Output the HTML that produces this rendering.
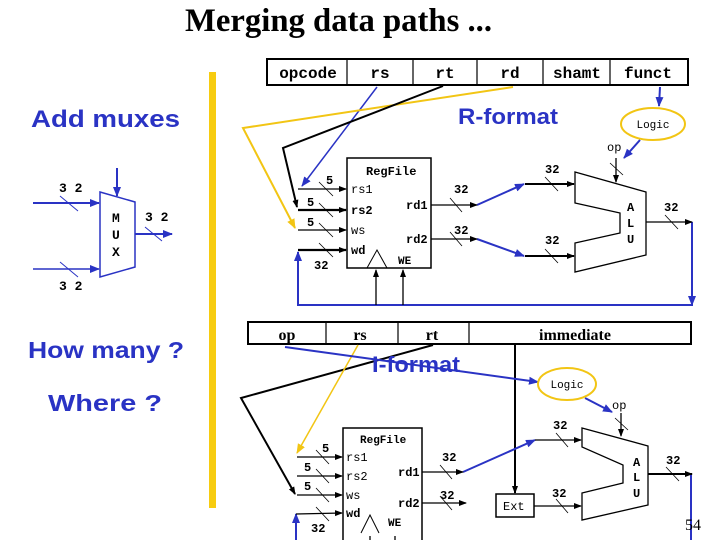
<!DOCTYPE html>
<html><head><meta charset="utf-8"><style>
html,body{margin:0;padding:0;background:#fff;}
svg{display:block}
.m{font-family:"Liberation Mono",monospace;font-weight:bold;}
.b{font-family:"Liberation Sans",sans-serif;font-weight:bold;fill:#2a33c4;}
</style></head><body>
<svg width="720" height="540" viewBox="0 0 720 540" xmlns="http://www.w3.org/2000/svg">
<defs>
<marker id="ak" markerWidth="8" markerHeight="8" refX="7" refY="4" orient="auto" markerUnits="userSpaceOnUse"><path d="M0,1 L8,4 L0,7z" fill="#000"/></marker>
<marker id="ab" markerWidth="10" markerHeight="10" refX="9" refY="5" orient="auto" markerUnits="userSpaceOnUse"><path d="M0,1 L10,5 L0,9z" fill="#2a33c4"/></marker>
<marker id="ay" markerWidth="10" markerHeight="10" refX="9" refY="5" orient="auto" markerUnits="userSpaceOnUse"><path d="M0,1 L10,5 L0,9z" fill="#f2c514"/></marker>
</defs>
<text x="185" y="31" textLength="307" lengthAdjust="spacingAndGlyphs" font-family="Liberation Serif,serif" font-weight="bold" font-size="33">Merging data paths ...</text>
<text x="31" y="127" class="b" font-size="24" textLength="149" lengthAdjust="spacingAndGlyphs">Add muxes</text>
<text x="28" y="358" class="b" font-size="23" textLength="156" lengthAdjust="spacingAndGlyphs">How many ?</text>
<text x="48" y="411" class="b" font-size="23" textLength="114" lengthAdjust="spacingAndGlyphs">Where ?</text>
<rect x="209" y="72" width="7" height="436" fill="#f7cc10"/>

<!-- MUX -->
<g stroke="#2a33c4" fill="none" stroke-width="1.5">
<path d="M100,192 L135,202 L135,267 L100,277Z" fill="#fff"/>
<line x1="33" y1="203" x2="99" y2="203" marker-end="url(#ab)" stroke-width="2"/>
<line x1="33" y1="269" x2="99" y2="269" marker-end="url(#ab)"/>
<line x1="135" y1="234" x2="172" y2="234" marker-end="url(#ab)" stroke-width="2"/>
<line x1="117" y1="168" x2="117" y2="196" marker-end="url(#ab)" stroke-width="2"/>
<line x1="60" y1="196" x2="78" y2="211" stroke-width="1"/>
<line x1="60" y1="262" x2="78" y2="277" stroke-width="1"/>
<line x1="145" y1="227" x2="162" y2="241" stroke-width="1"/>
</g>
<g class="m" font-size="13">
<text x="59" y="192">3 2</text><text x="145" y="221">3 2</text><text x="59" y="290">3 2</text>
<text x="112" y="222">M</text><text x="112" y="239">U</text><text x="112" y="256">X</text>
</g>

<!-- R-format -->
<rect x="267" y="59" width="421" height="26" fill="#fff" stroke="#000" stroke-width="2"/>
<g stroke="#000" stroke-width="1.2"><line x1="347" y1="59" x2="347" y2="85"/><line x1="413" y1="59" x2="413" y2="85"/><line x1="477" y1="59" x2="477" y2="85"/><line x1="543" y1="59" x2="543" y2="85"/><line x1="610" y1="59" x2="610" y2="85"/></g>
<g class="m" font-size="16" text-anchor="middle">
<text x="308" y="78">opcode</text><text x="380" y="78">rs</text><text x="445" y="78">rt</text><text x="510" y="78">rd</text><text x="577" y="78">shamt</text><text x="648" y="78">funct</text>
</g>
<text x="458" y="124" class="b" font-size="22" textLength="100" lengthAdjust="spacingAndGlyphs">R-format</text>
<ellipse cx="653" cy="124" rx="32" ry="16" fill="#fff" stroke="#f2c514" stroke-width="2"/>
<text x="653" y="128" text-anchor="middle" font-family="Liberation Mono,monospace" font-size="11">Logic</text>
<g stroke="#2a33c4" stroke-width="2" fill="none">
<line x1="660" y1="87" x2="659" y2="106" marker-end="url(#ab)"/>
<line x1="640" y1="140" x2="624" y2="158" marker-end="url(#ab)"/>
<line x1="377" y1="87" x2="302" y2="186" marker-end="url(#ab)" stroke-width="1.5"/>
<line x1="477" y1="205" x2="524" y2="184" marker-end="url(#ab)"/>
<line x1="477" y1="239" x2="524" y2="256" marker-end="url(#ab)"/>
<polyline points="692,222 692,305 298,305 298,252" marker-end="url(#ab)"/>
<line x1="692" y1="222" x2="692" y2="305" marker-end="url(#ab)"/>
</g>
<polyline points="513,87 243,128 295,228" fill="none" stroke="#f2c514" stroke-width="2" marker-end="url(#ay)"/>
<polyline points="443,86 283,148 297,207" fill="none" stroke="#000" stroke-width="2" marker-end="url(#ak)"/>
<rect x="347" y="158" width="84" height="110" fill="#fff" stroke="#000" stroke-width="1.5"/>
<path d="M367,268 L377,250 L387,268" fill="none" stroke="#000"/>
<g stroke="#000" stroke-width="1.3" fill="none">
<line x1="298" y1="189" x2="346" y2="189" marker-end="url(#ak)"/>
<line x1="298" y1="210" x2="346" y2="210" marker-end="url(#ak)" stroke-width="2.2"/>
<line x1="298" y1="230" x2="346" y2="230" marker-end="url(#ak)"/>
<line x1="298" y1="250" x2="346" y2="250" marker-end="url(#ak)" stroke-width="2.2"/>
<line x1="431" y1="205" x2="477" y2="205" marker-end="url(#ak)"/>
<line x1="431" y1="239" x2="477" y2="239" marker-end="url(#ak)"/>
<line x1="525" y1="184" x2="574" y2="184" marker-end="url(#ak)" stroke-width="2"/>
<line x1="525" y1="256" x2="574" y2="256" marker-end="url(#ak)" stroke-width="2"/>
<line x1="646" y1="222" x2="692" y2="222" marker-end="url(#ak)"/>
<line x1="616" y1="158" x2="616" y2="182" marker-end="url(#ak)"/>
<line x1="376" y1="305" x2="376" y2="270" marker-end="url(#ak)"/>
<line x1="403" y1="305" x2="403" y2="270" marker-end="url(#ak)"/>
<path d="M575,172 L646,192 L646,255 L575,272 L575,243 L620,233 L620,213 L575,203Z" fill="#fff"/>
<g stroke-width="0.8">
<line x1="319" y1="182" x2="333" y2="196"/><line x1="319" y1="203" x2="333" y2="217"/><line x1="319" y1="223" x2="333" y2="237"/><line x1="319" y1="243" x2="333" y2="257"/>
<line x1="450" y1="198" x2="462" y2="212"/><line x1="450" y1="232" x2="462" y2="246"/>
<line x1="545" y1="177" x2="558" y2="191"/><line x1="545" y1="249" x2="558" y2="263"/>
<line x1="665" y1="215" x2="678" y2="229"/><line x1="610" y1="163" x2="623" y2="175"/>
</g></g>
<g class="m" font-size="12">
<text x="366" y="175">RegFile</text>
<text x="351" y="193" font-weight="normal">rs1</text><text x="351" y="214">rs2</text><text x="351" y="234" font-weight="normal">ws</text><text x="351" y="254">wd</text>
<text x="406" y="209">rd1</text><text x="406" y="243">rd2</text><text x="398" y="264" font-size="11">WE</text>
<text x="326" y="184">5</text><text x="307" y="206">5</text><text x="307" y="226">5</text><text x="314" y="269">32</text>
<text x="454" y="193">32</text><text x="454" y="234">32</text><text x="545" y="173">32</text><text x="545" y="244">32</text><text x="664" y="211">32</text>
<text x="627" y="211">A</text><text x="627" y="227">L</text><text x="627" y="243">U</text>
<text x="607" y="151" font-weight="normal">op</text>
</g>

<!-- I-format -->
<rect x="248" y="322" width="443" height="22" fill="#fff" stroke="#000" stroke-width="2"/>
<g stroke="#000" stroke-width="1.2"><line x1="326" y1="322" x2="326" y2="344"/><line x1="398" y1="322" x2="398" y2="344"/><line x1="469" y1="322" x2="469" y2="344"/></g>
<g font-family="Liberation Serif,serif" font-weight="bold" font-size="16" text-anchor="middle">
<text x="287" y="340">op</text><text x="360" y="340">rs</text><text x="432" y="340">rt</text><text x="575" y="340">immediate</text>
</g>
<line x1="515" y1="344" x2="515" y2="493" stroke="#000" stroke-width="2" marker-end="url(#ak)"/>
<polyline points="433,345 241,398 295,494" fill="none" stroke="#000" stroke-width="2" marker-end="url(#ak)"/>
<line x1="358" y1="345" x2="297" y2="453" stroke="#f2c514" stroke-width="1.5" marker-end="url(#ay)"/>
<g stroke="#2a33c4" stroke-width="2" fill="none">
<line x1="285" y1="347" x2="538" y2="382" marker-end="url(#ab)"/>
<line x1="585" y1="398" x2="612" y2="412" marker-end="url(#ab)"/>
<line x1="463" y1="472" x2="535" y2="440" marker-end="url(#ab)"/>
<line x1="691" y1="474" x2="691" y2="540"/>
<line x1="296" y1="540" x2="296" y2="514" marker-end="url(#ab)"/>
</g>
<text x="372" y="372" class="b" font-size="22" textLength="88" lengthAdjust="spacingAndGlyphs">I-format</text>
<ellipse cx="567" cy="384" rx="29" ry="16" fill="#fff" stroke="#f2c514" stroke-width="2"/>
<text x="567" y="388" text-anchor="middle" font-family="Liberation Mono,monospace" font-size="11">Logic</text>
<rect x="343" y="428" width="79" height="115" fill="#fff" stroke="#000" stroke-width="1.5"/>
<path d="M361,533 L370,515 L379,533" fill="none" stroke="#000"/>
<rect x="496" y="494" width="38" height="23" fill="#fff" stroke="#000" stroke-width="1.5"/>
<g stroke="#000" stroke-width="1.3" fill="none">
<line x1="297" y1="457" x2="342" y2="457" marker-end="url(#ak)"/>
<line x1="297" y1="476" x2="342" y2="476" marker-end="url(#ak)"/>
<line x1="297" y1="495" x2="342" y2="495" marker-end="url(#ak)"/>
<polyline points="296,514 342,513" marker-end="url(#ak)"/>
<line x1="422" y1="472" x2="463" y2="472" marker-end="url(#ak)"/>
<line x1="422" y1="503" x2="466" y2="503" marker-end="url(#ak)"/>
<line x1="535" y1="440" x2="581" y2="440" marker-end="url(#ak)"/>
<line x1="534" y1="506" x2="581" y2="506" marker-end="url(#ak)"/>
<line x1="648" y1="474" x2="692" y2="474" marker-end="url(#ak)" stroke-width="2"/>
<line x1="621" y1="413" x2="621" y2="436" marker-end="url(#ak)"/>
<line x1="370" y1="540" x2="370" y2="536"/><line x1="395" y1="540" x2="395" y2="536"/>
<path d="M582,428 L648,446 L648,505 L582,520 L582,493 L623,483 L623,465 L582,447Z" fill="#fff"/>
<g stroke-width="0.8">
<line x1="316" y1="450" x2="329" y2="464"/><line x1="316" y1="469" x2="329" y2="483"/><line x1="316" y1="488" x2="329" y2="502"/><line x1="316" y1="507" x2="329" y2="521"/>
<line x1="440" y1="465" x2="452" y2="479"/><line x1="440" y1="496" x2="452" y2="510"/>
<line x1="556" y1="433" x2="568" y2="447"/><line x1="556" y1="499" x2="568" y2="513"/>
<line x1="666" y1="467" x2="679" y2="481"/><line x1="615" y1="418" x2="628" y2="430"/>
</g></g>
<g class="m" font-size="12">
<text x="360" y="443" font-size="11">RegFile</text>
<text x="346" y="461" font-weight="normal">rs1</text><text x="346" y="480" font-weight="normal">rs2</text><text x="346" y="499" font-weight="normal">ws</text><text x="346" y="517">wd</text>
<text x="398" y="476">rd1</text><text x="398" y="507">rd2</text><text x="388" y="526" font-size="11">WE</text>
<text x="503" y="510" font-weight="normal">Ext</text>
<text x="322" y="452">5</text><text x="304" y="471">5</text><text x="304" y="490">5</text><text x="311" y="532">32</text>
<text x="442" y="461">32</text><text x="440" y="499">32</text><text x="553" y="429">32</text><text x="552" y="497">32</text><text x="666" y="464">32</text>
<text x="633" y="466">A</text><text x="633" y="481">L</text><text x="633" y="497">U</text>
<text x="612" y="409" font-weight="normal">op</text>
</g>
<text x="685" y="530" font-family="Liberation Serif,serif" font-size="16">54</text>
</svg>
</body></html>
